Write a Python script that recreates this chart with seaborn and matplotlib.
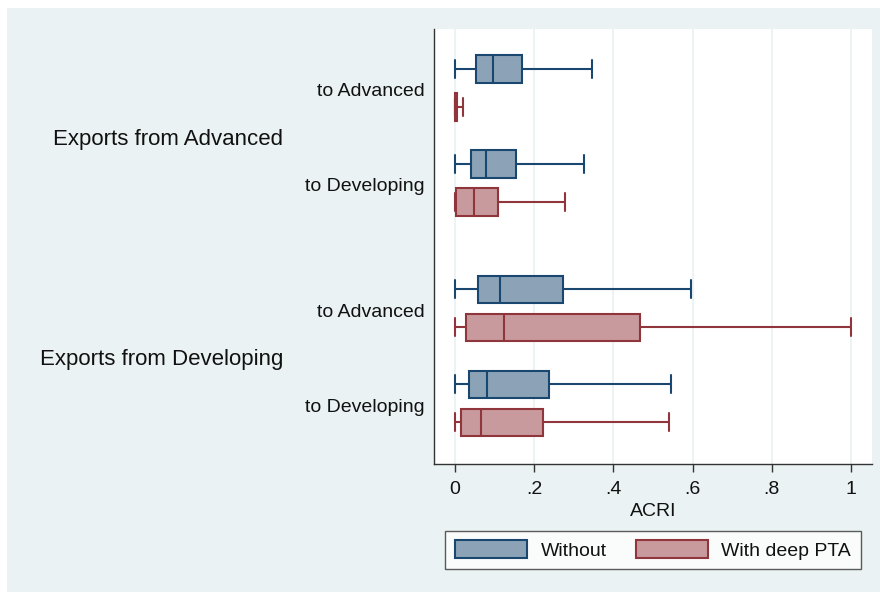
import numpy as np
import pandas as pd
import matplotlib
matplotlib.use("Agg")
import matplotlib.pyplot as plt
import matplotlib.transforms as mtransforms
from matplotlib.patches import Patch, Rectangle
import seaborn as sns

# ---- data: five-number summaries of ACRI by exporter / destination ----
origins = ["Advanced", "Developing"]
destinations = ["Advanced", "Developing"]
series = ["Without", "With deep PTA"]

# order: (Adv->Adv, Adv->Dev, Dev->Adv, Dev->Dev)
without_min = [0.0, 0.0, 0.0, 0.0]
without_q1 = [0.054, 0.040, 0.058, 0.035]
without_med = [0.095, 0.079, 0.113, 0.082]
without_q3 = [0.168, 0.153, 0.272, 0.237]
without_max = [0.346, 0.327, 0.596, 0.545]

pta_min = [0.0, 0.0, 0.0, 0.0]
pta_q1 = [0.0, 0.002, 0.028, 0.014]
pta_med = [0.002, 0.047, 0.125, 0.065]
pta_q3 = [0.005, 0.109, 0.468, 0.222]
pta_max = [0.019, 0.277, 1.0, 0.540]

x_ticks = [0, 0.2, 0.4, 0.6, 0.8, 1.0]
x_tick_labels = ["0", ".2", ".4", ".6", ".8", "1"]

# ---- layout of rows (pair pitch, subgroup and group spacing) ----
PAIR_STEP = 1.0
SUB_STEP = 2.5
GROUP_STEP = 5.8
BOX_WIDTH = 0.72
CAP_LEN = 0.48

summaries = {
    "Without": [without_min, without_q1, without_med, without_q3, without_max],
    "With deep PTA": [pta_min, pta_q1, pta_med, pta_q3, pta_max],
}

rows = []
sub_centers, sub_labels, group_centers = [], [], []
k = 0
for gi, org in enumerate(origins):
    gpos = []
    for si, dst in enumerate(destinations):
        base = gi * GROUP_STEP + si * SUB_STEP
        for ki, s in enumerate(series):
            pos = base + ki * PAIR_STEP
            gpos.append(pos)
            # each box is described by its five-number summary
            for arr in summaries[s]:
                rows.append({"pos": pos, "ACRI": arr[k], "series": s})
        sub_centers.append(base + PAIR_STEP / 2)
        sub_labels.append(f"to {dst}")
        k += 1
    group_centers.append((min(gpos) + max(gpos)) / 2)

df = pd.DataFrame(rows)

# ---- styling ----
BG = "#EAF2F3"
navy = "#1A476F"
maroon = "#90353B"
fills = {"Without": "#8CA3B7", "With deep PTA": "#C89A9D"}
edges = {"Without": navy, "With deep PTA": maroon}

sns.set_theme(style="white")
plt.rcParams["font.family"] = ["Liberation Sans", "DejaVu Sans"]

fig = plt.figure(figsize=(8.8, 5.92), dpi=100, facecolor="white")
fig.patches.append(Rectangle((7 / 880, 0), 1, 1 - 8 / 592, transform=fig.transFigure,
                             facecolor=BG, edgecolor="none", zorder=-10))
ax = fig.add_axes([434 / 880, 1 - 464 / 592, (872 - 434) / 880, (464 - 29) / 592])
ax.set_facecolor("white")

for gx in x_ticks:
    ax.axvline(gx, color=BG, lw=1.3, zorder=0)

for s in series:
    sub = df[df["series"] == s]
    # seaborn scales width by the smallest gap between positions on a native axis
    native = np.diff(np.sort(sub["pos"].unique())).min()
    n_before = len(ax.lines)
    sns.boxplot(
        data=sub, x="ACRI", y="pos", orient="h", native_scale=True,
        color=fills[s], linecolor=edges[s], whis=(0, 100), width=BOX_WIDTH / native,
        linewidth=1.5, showfliers=False, saturation=1, ax=ax,
    )
    # lengthen whisker caps (vertical segments shorter than the box)
    for ln in ax.lines[n_before:]:
        xd, yd = np.asarray(ln.get_xdata(), float), np.asarray(ln.get_ydata(), float)
        if len(xd) == 2 and xd[0] == xd[1] and abs(yd[1] - yd[0]) < BOX_WIDTH * 0.9:
            yc = (yd[0] + yd[1]) / 2
            ln.set_ydata([yc - CAP_LEN / 2, yc + CAP_LEN / 2])
        ln.set_zorder(3)

ax.set_xlim(-0.053, 1.053)
ax.set_ylim(10.4, -1.05)
ax.set_xticks(x_ticks)
ax.set_xticklabels(x_tick_labels)
ax.set_yticks(sub_centers)
ax.set_yticklabels(sub_labels)
ax.set_xlabel("ACRI", fontsize=14, labelpad=3, color="#111111")
ax.set_ylabel("")
ax.tick_params(axis="x", length=6, width=1, color="#333333", pad=6.5,
               labelsize=14, labelcolor="#111111", bottom=True)
ax.tick_params(axis="y", length=0, pad=6.5, labelsize=14, labelcolor="#111111")
for side in ["top", "right"]:
    ax.spines[side].set_visible(False)
for side in ["left", "bottom"]:
    ax.spines[side].set_visible(True)
    ax.spines[side].set_color("#333333")
    ax.spines[side].set_linewidth(1)

# nudge category labels slightly downward
down = mtransforms.ScaledTranslation(0, -1.5 / 72, fig.dpi_scale_trans)
for t in ax.get_yticklabels():
    t.set_transform(t.get_transform() + down)

trans = mtransforms.blended_transform_factory(ax.transAxes, ax.transData)
group_down = mtransforms.ScaledTranslation(0, -3 / 72, fig.dpi_scale_trans)
for org, yc in zip(origins, group_centers):
    ax.text((283 - 434) / 438, yc, f"Exports from {org}", transform=trans + group_down,
            ha="right", va="center", fontsize=16, color="#111111")

handles = [Patch(facecolor=fills[s], edgecolor=edges[s], lw=1.5) for s in series]
leg = fig.legend(handles, series, loc="center", bbox_to_anchor=(653 / 880, 1 - 550 / 592),
                 ncol=2, fontsize=14, frameon=True, fancybox=False,
                 handlelength=3.7, handleheight=1.0, handletextpad=0.7,
                 columnspacing=1.5, borderpad=0.5, borderaxespad=0)
leg.get_frame().set_edgecolor("#333333")
leg.get_frame().set_linewidth(1)
leg.get_frame().set_facecolor("white")
for t in leg.get_texts():
    t.set_color("#111111")

fig.savefig("out.png", dpi=100, facecolor=fig.get_facecolor())
